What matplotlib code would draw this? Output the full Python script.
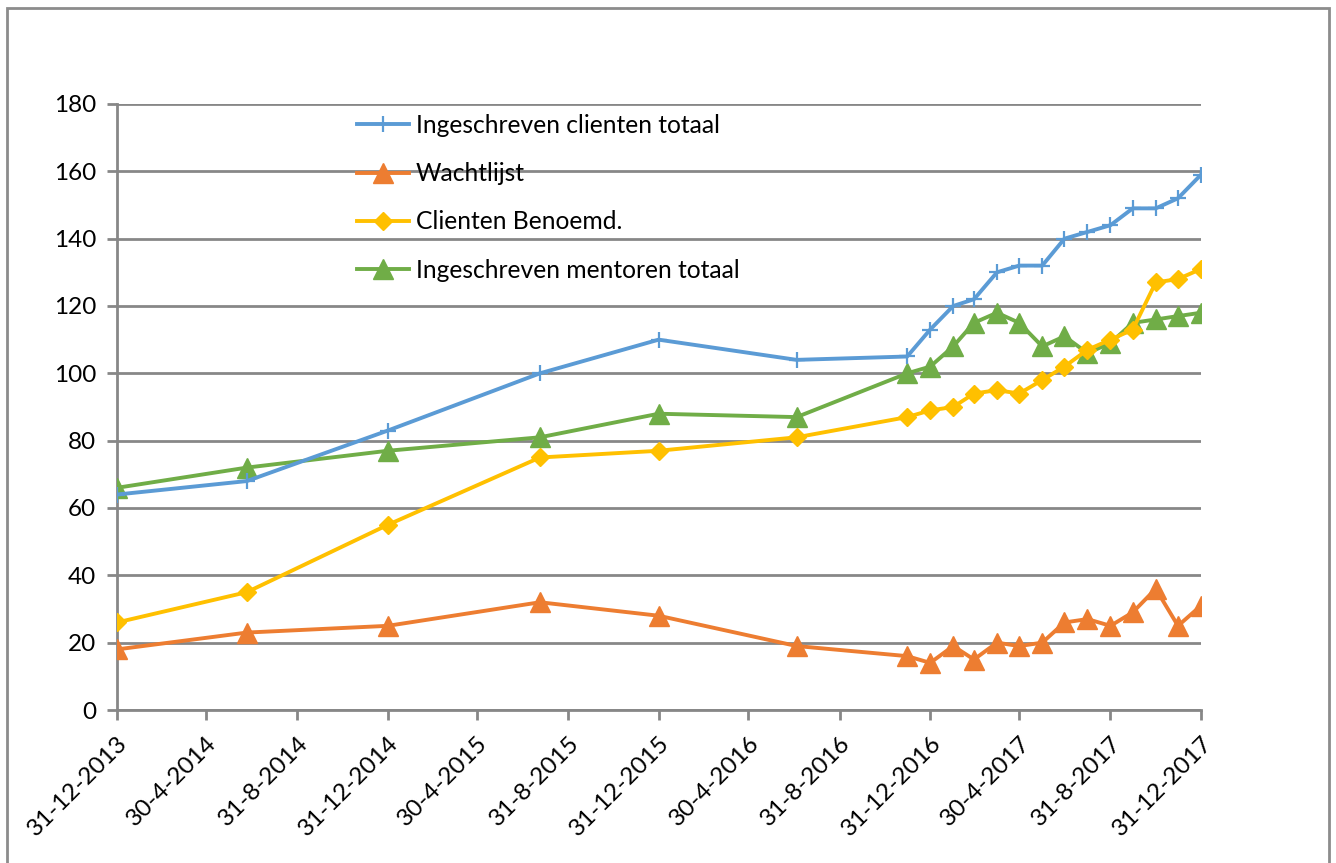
import matplotlib
matplotlib.use("Agg")
import matplotlib.pyplot as plt
import matplotlib.dates as mdates
from matplotlib.patches import Rectangle
import datetime as dt

dates = ["2013-12-31", "2014-06-24", "2014-12-31", "2015-07-24", "2015-12-31",
         "2016-07-04", "2016-11-30", "2016-12-31", "2017-01-31", "2017-02-28",
         "2017-03-31", "2017-04-30", "2017-05-31", "2017-06-30", "2017-07-31",
         "2017-08-31", "2017-09-30", "2017-10-31", "2017-11-30", "2017-12-31"]

clienten_totaal = [64, 68, 83, 100, 110, 104, 105, 113, 120, 122,
                   130, 132, 132, 140, 142, 144, 149, 149, 152, 159]
wachtlijst = [18, 23, 25, 32, 28, 19, 16, 14, 19, 15,
              20, 19, 20, 26, 27, 25, 29, 36, 25, 31]
clienten_benoemd = [26, 35, 55, 75, 77, 81, 87, 89, 90, 94,
                    95, 94, 98, 102, 107, 110, 113, 127, 128, 131]
mentoren_totaal = [66, 72, 77, 81, 88, 87, 100, 102, 108, 115,
                   118, 115, 108, 111, 106, 109, 115, 116, 117, 118]

series_names = ["Ingeschreven clienten totaal", "Wachtlijst",
                "Clienten Benoemd.", "Ingeschreven mentoren totaal"]

tick_dates = ["2013-12-31", "2014-04-30", "2014-08-31", "2014-12-31", "2015-04-30",
              "2015-08-31", "2015-12-31", "2016-04-30", "2016-08-31", "2016-12-31",
              "2017-04-30", "2017-08-31", "2017-12-31"]
y_ticks = [0, 20, 40, 60, 80, 100, 120, 140, 160, 180]

FONT = ["Lato", "DejaVu Sans"]
plt.rcParams['font.family'] = FONT

x = [dt.datetime.strptime(d, "%Y-%m-%d") for d in dates]
xt = [dt.datetime.strptime(d, "%Y-%m-%d") for d in tick_dates]
xt_labels = [f"{d.day}-{d.month}-{d.year}" for d in xt]

fig = plt.figure(figsize=(13.36, 8.63), dpi=100)
fig.patch.set_facecolor("white")
# outer chart border
fig.add_artist(Rectangle((7 / 1336, -0.01), (1329 - 7) / 1336, 1 - 8 / 863 + 0.01,
                         transform=fig.transFigure, fill=False,
                         edgecolor="#8c8c8c", linewidth=2))

ax = fig.add_axes([117 / 1336, 1 - 710 / 863, (1201 - 117) / 1336, (710 - 104) / 863])

grid_c = "#878787"
lw = 2.8
ax.plot(x, clienten_totaal, color="#5B9BD5", lw=lw, marker="+", ms=12, mew=1.6,
        label=series_names[0], zorder=5)
ax.plot(x, wachtlijst, color="#ED7D31", lw=lw, marker="^", ms=15,
        label=series_names[1], zorder=4)
ax.plot(x, clienten_benoemd, color="#FFC000", lw=lw, marker="D", ms=9,
        label=series_names[2], zorder=6)
ax.plot(x, mentoren_totaal, color="#70AD47", lw=lw, marker="^", ms=14.5,
        label=series_names[3], zorder=3)

ax.set_xlim(xt[0], xt[-1])
ax.set_ylim(0, 180)
ax.set_yticks(y_ticks)
ax.set_xticks(xt)
ax.set_xticklabels(xt_labels, rotation=45, ha="right", rotation_mode="anchor",
                   fontsize=17.5)
ax.tick_params(axis="y", labelsize=17.5, length=7, width=2, color=grid_c, pad=8)
ax.tick_params(axis="x", length=7, width=2, color=grid_c, pad=9)

ax.grid(axis="y", color=grid_c, lw=2)
ax.set_axisbelow(True)
for s in ["top", "right"]:
    ax.spines[s].set_visible(False)
for s in ["left", "bottom"]:
    ax.spines[s].set_color(grid_c)
    ax.spines[s].set_linewidth(2)

leg = ax.legend(loc="upper left", bbox_to_anchor=(0.212, 1.0), frameon=False,
                fontsize=17.7, labelspacing=1.03, handlelength=2.15,
                handletextpad=0.25, borderaxespad=0)

fig.savefig("out.png", dpi=100, facecolor="white")
